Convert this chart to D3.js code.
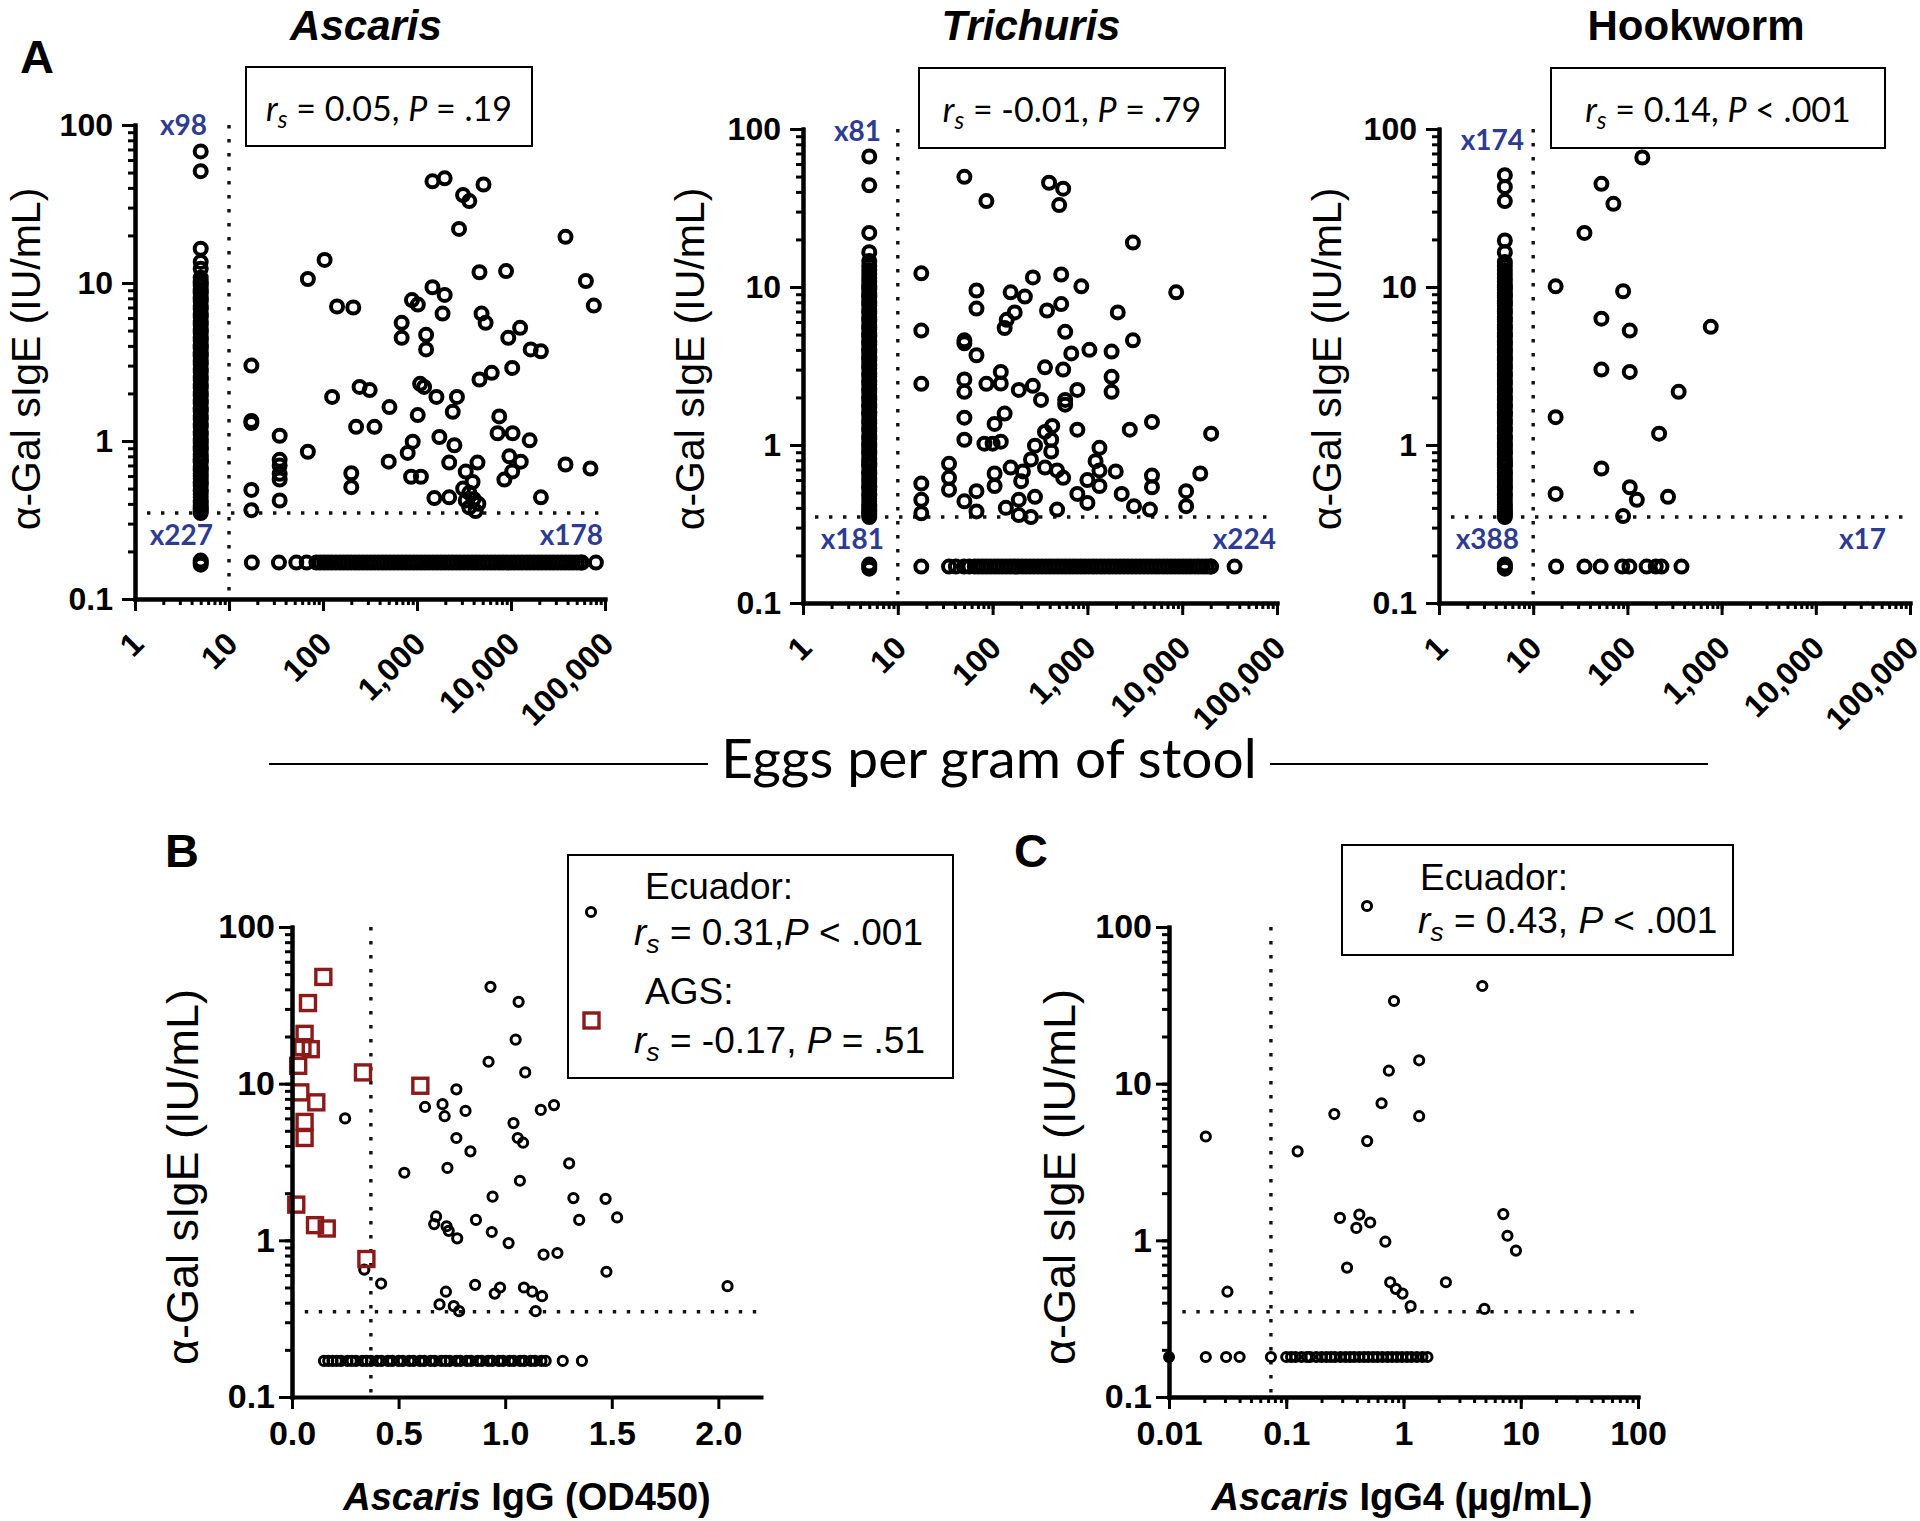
<!DOCTYPE html>
<html><head><meta charset="utf-8">
<script src="https://cdn.jsdelivr.net/npm/d3@7"></script>
<style>body{margin:0;background:#fff}svg{display:block}</style>
</head><body>
<svg id="fig" width="1920" height="1521"></svg>
<script>
// ---------------- DATA ----------------
const panelTitles = ["Ascaris", "Trichuris", "Hookworm"];
const panelItalic = [true, true, false];
const eggTicks = [1, 10, 100, 1000, 10000, 100000];
const eggTickLabels = ["1", "10", "100", "1,000", "10,000", "100,000"];
const igeTicks = [0.1, 1, 10, 100];
const igeTickLabels = ["0.1", "1", "10", "100"];
const countTopLeft = ["x98", "x81", "x174"];
const countBottomLeft = ["x227", "x181", "x388"];
const countBottomRight = ["x178", "x224", "x17"];
const rsValues = ["0.05", "-0.01", "0.14"];
const pValues = ["= .19", "= .79", "< .001"];
const yAxisTitle = "\u03b1-Gal sIgE (IU/mL)";
const xTitleA = "Eggs per gram of stool";

const negativeStoolX = 5;      // egg-negative subjects plotted at 5 EPG
const belowLodY = 0.17;        // sIgE below detection plotted at 0.17
const lodY = 0.35;             // alpha-gal positivity cut-off
const eggCut = 10;

// dense column of egg-negative subjects (0.35 .. ~11 IU/mL)
const columnDense = [0.35,0.36,0.37,0.38,0.39,0.41,0.42,0.44,0.46,0.48,0.49,0.52,0.54,0.55,0.58,0.6,0.62,0.65,0.67,0.69,0.73,0.75,0.77,0.8,0.82,0.87,0.9,0.92,0.97,1.0,1.03,1.09,1.12,1.15,1.22,1.26,1.29,1.37,1.41,1.45,1.53,1.58,1.62,1.72,1.77,1.82,1.93,1.98,2.04,2.16,2.22,2.29,2.42,2.5,2.57,2.72,2.8,2.88,3.05,3.14,3.23,3.42,3.52,3.62,3.84,3.95,4.06,4.3,4.43,4.56,4.83,4.97,5.11,5.41,5.57,5.73,6.07,6.25,6.43,6.81,7.0,7.21,7.64,7.85,8.09,8.57,8.8,9.08,9.6,9.9,10.2,10.8];
const ascarisColumnExtra = [0.165,0.17,0.175,12.3,13.6,16.5,51,68];
const trichurisColumnExtra = [0.165,0.17,0.175,11.4,12.1,12.8,13.6,14.6,16.6,22,44,67];
const hookwormColumnExtra = [0.165,0.17,0.175,11.4,12.1,12.8,13.6,14.4,16.6,19.7,35,43,51];

// egg-positive subjects with sIgE below detection (x = EPG)
const ascarisZeroRow = [17.5,34,52,67,85,93.5,103,113,124,137,151,166,182,200,220,242,266,293,322,354,390,429,472,519,571,628,690,760,835,920,1010,1110,1220,1340,1480,1630,1790,1970,2170,2380,2620,2880,3170,3490,3840,4220,4640,5110,5620,6180,6800,7480,8230,9050,9950,10900,12000,13200,14600,16000,17600,19400,21300,23500,25800,28400,31200,34400,37800,41600,45700,50300,55300,57000,80000];
const trichurisZeroRow = [17.7,34.7,41,50,57,65,71.5,78.7,86.5,95,105,115,127,140,154,169,186,205,225,248,272,300,330,363,399,439,483,531,584,643,707,778,855,941,1035,1140,1250,1380,1510,1670,1830,2020,2220,2440,2680,2950,3250,3570,3930,4320,4750,5230,5750,6330,6960,7650,8420,9260,10200,11200,12300,13600,14900,16400,18000,19800,20200,35700];
const hookwormZeroRow = [17.5,35,52,88,105,160,200,230,375];

// egg-positive subjects above detection: [EPG, sIgE]
const ascarisScatter = [[17.3,3.0],[69,10.6],[104,14],[141,7.1],[210,7.0],[125,1.9],[245,2.2],[314,2.1],[687,5.6],[687,4.5],[884,7.8],[1020,7.3],[1250,4.7],[1250,3.8],[1080,2.3],[1190,2.2],[1610,1.9],[1460,9.4],[1970,8.4],[1870,6.4],[1460,44],[1970,46],[3090,36],[3600,33],[5100,42],[2800,22],[2660,1.9],[4620,11.7],[4860,6.4],[5370,5.6],[4620,2.45],[6240,2.7],[8860,11.9],[9350,4.5],[12500,5.2],[10300,2.9],[16200,3.8],[20800,3.7],[38000,19.6],[62600,10.3],[76000,7.2],[17.3,1.34],[17.3,1.30],[17.3,0.49],[17.3,0.365],[34.6,1.08],[34.6,0.76],[34.6,0.70],[34.6,0.62],[34.6,0.57],[34.6,0.42],[69,0.855],[225,1.23],[353,1.23],[200,0.625],[200,0.51],[509,1.64],[1018,1.46],[500,0.74],[900,0.99],[796,0.84],[865,0.594],[1100,0.594],[1730,1.06],[2400,1.53],[2500,0.94],[2200,0.73],[1530,0.435],[2200,0.44],[3300,0.64],[4400,0.73],[3100,0.5],[3600,0.47],[4000,0.43],[4500,0.4],[3600,0.38],[3300,0.42],[4200,0.36],[3900,0.55],[7500,1.43],[7200,1.12],[10400,1.12],[15800,1.01],[9600,0.8],[12700,0.74],[10300,0.64],[8500,0.57],[20800,0.44],[38000,0.71],[70000,0.67]];
const trichurisScatter = [[17.7,12.2],[17.7,5.3],[17.7,2.44],[17.7,0.57],[17.7,0.45],[17.7,0.37],[34.7,0.76],[34.7,0.62],[34.7,0.52],[50.4,0.44],[50.4,49.8],[86,35],[67.6,9.5],[67.6,7.3],[50.4,4.6],[50.4,4.4],[67.6,3.7],[50.4,2.6],[50.4,2.17],[50.4,1.49],[50.4,1.08],[67.6,0.51],[67.6,0.38],[86,2.44],[122,2.9],[122,2.45],[134,1.58],[105,1.36],[82,1.02],[100,1.02],[122,1.05],[105,0.66],[105,0.55],[138,0.40],[155,0.72],[189,0.45],[189,0.36],[209,0.68],[200,0.59],[254,0.35],[280,0.47],[254,0.81],[280,0.99],[189,2.23],[266,2.37],[324,1.93],[357,1.21],[426,1.32],[415,1.08],[415,0.91],[479,0.39],[134,5.5],[141,6.2],[171,6.9],[155,9.25],[219,8.7],[266,11.5],[375,7.1],[529,7.8],[529,12],[394,45.7],[555,41.9],[504,33],[863,10.1],[583,5.2],[676,3.8],[1050,4.0],[555,3.0],[357,3.1],[583,1.93],[583,1.8],[783,2.23],[783,1.25],[2090,6.9],[1800,3.9],[1800,2.7],[1800,2.17],[3020,19.1],[3020,4.6],[2800,1.25],[4800,1.4],[1340,0.96],[1220,0.79],[1340,0.69],[1000,0.6],[783,0.49],[1000,0.43],[1340,0.55],[1990,0.68],[2300,0.49],[3100,0.41],[4570,0.39],[4800,0.64],[4800,0.54],[11000,0.51],[11000,0.41],[15500,0.66],[8640,9.25],[20200,1.18],[479,0.69],[555,0.62],[357,0.72]];
const hookwormScatter = [[17.3,10.1],[17.3,1.5],[17.3,0.49],[35,22],[53,45],[71,33.6],[144,66],[90,9.4],[53,6.3],[106,5.3],[53,3.0],[106,2.9],[767,5.6],[350,2.17],[217,1.18],[53,0.71],[106,0.54],[126,0.45],[270,0.47],[90,0.355]];

// Panel B: Ascaris IgG (OD450) vs alpha-gal sIgE
const igGTicks = [0, 0.5, 1, 1.5, 2];
const igGTickLabels = ["0.0", "0.5", "1.0", "1.5", "2.0"];
const igGCut = 0.37;
const ecuadorIgG = [[0.931,41.5],[1.063,33.3],[1.049,19.1],[0.922,13.8],[1.094,11.8],[0.249,6.0],[0.624,7.1],[0.706,7.4],[0.716,6.2],[0.771,9.2],[0.814,6.7],[0.771,4.5],[0.837,3.7],[0.729,2.9],[0.527,2.7],[1.167,6.8],[1.229,7.3],[1.039,5.6],[1.059,4.5],[1.084,4.2],[1.069,2.4],[1.3,3.1],[0.941,1.9],[1.32,1.86],[1.471,1.84],[1.525,1.4],[1.347,1.35],[0.676,1.42],[0.667,1.27],[0.725,1.23],[0.735,1.15],[0.775,1.03],[0.863,1.35],[0.937,1.13],[1.016,0.96],[1.18,0.81],[1.245,0.83],[1.475,0.63],[0.339,0.65],[0.418,0.53],[0.859,0.52],[0.976,0.5],[0.951,0.457],[0.722,0.47],[0.692,0.39],[0.759,0.38],[0.784,0.353],[1.088,0.5],[1.127,0.47],[1.173,0.44],[1.143,0.353],[2.043,0.51]];
const ecuadorIgGZero = [0.15,0.17,0.19,0.21,0.23,0.26,0.28,0.30,0.33,0.35,0.37,0.40,0.42,0.45,0.47,0.50,0.52,0.55,0.57,0.60,0.62,0.65,0.67,0.70,0.72,0.74,0.77,0.79,0.82,0.84,0.87,0.89,0.92,0.94,0.97,0.99,1.02,1.04,1.07,1.09,1.12,1.14,1.17,1.19,1.27,1.36];
const agsIgG = [[0.147,48],[0.075,32.7],[0.059,20.8],[0.049,17.1],[0.088,16.6],[0.029,13],[0.333,11.8],[0.039,8.8],[0.114,7.6],[0.059,5.7],[0.059,4.5],[0.602,9.7],[0.02,1.69],[0.108,1.25],[0.163,1.19],[0.349,0.76]];
const legendB = [{name:"Ecuador:", rs:"0.31,", p:"< .001"}, {name:"AGS:", rs:"-0.17,", p:"= .51"}];

// Panel C: Ascaris IgG4 vs alpha-gal sIgE
const igG4Ticks = [0.01, 0.1, 1, 10, 100];
const igG4TickLabels = ["0.01", "0.1", "1", "10", "100"];
const igG4Cut = 0.074;
const ecuadorIgG4 = [[4.7,42],[0.83,33.7],[1.36,14.1],[0.75,12.1],[0.65,7.5],[0.257,6.4],[1.36,6.2],[0.49,4.3],[0.0206,4.6],[0.125,3.7],[0.287,1.39],[0.42,1.46],[0.396,1.2],[0.52,1.3],[0.7,0.98],[0.33,0.67],[7.1,1.47],[7.7,1.07],[9.1,0.86],[2.3,0.54],[0.77,0.54],[0.86,0.49],[0.98,0.457],[1.15,0.38],[4.9,0.365],[0.0315,0.47]];
const ecuadorIgG4Zero = [0.0206,0.0307,0.04,0.074,0.1,0.11,0.12,0.135,0.15,0.16,0.18,0.2,0.22,0.24,0.26,0.29,0.32,0.35,0.38,0.42,0.46,0.5,0.55,0.6,0.66,0.73,0.8,0.88,0.97,1.07,1.17,1.3,1.45,1.6];
const ecuadorIgG4Filled = [[0.01, 0.18]];
const belowLodYC = 0.18;
const legendC = [{name:"Ecuador:", rs:"0.43,", p:"< .001"}];

// ---------------- DRAWING ----------------
const svg = d3.select("#fig");
const BLUE = "#2e3b92", RED = "#8b1a1a";
const ARIAL = "'Liberation Sans', Arial, Helvetica, sans-serif";
const CAL = "Lato, 'Open Sans', sans-serif";

function styleAxis(a, w) {
  a.select(".domain").attr("stroke", "#000").attr("stroke-width", w).attr("stroke-linecap", "square");
  a.selectAll(".tick line").attr("stroke", "#000").attr("stroke-width", 3);
  a.selectAll("text").attr("fill", "#000");
}

function logYAxis(g, y, x0, fontSize, pad) {
  const minor = g.append("g").attr("transform", `translate(${x0},0)`)
    .call(d3.axisLeft(y).tickValues(y.ticks()).tickSize(7).tickSizeOuter(0).tickFormat(""));
  const major = g.append("g").attr("transform", `translate(${x0},0)`)
    .call(d3.axisLeft(y).tickValues(igeTicks).tickSize(13).tickSizeOuter(0).tickPadding(pad)
      .tickFormat((d, i) => igeTickLabels[i]));
  styleAxis(minor, 4); styleAxis(major, 4);
  major.attr("font-family", ARIAL).attr("font-size", fontSize).attr("font-weight", "bold");
}

function dotted(g, x1, y1, x2, y2) {
  g.append("line").attr("x1", x1).attr("y1", y1).attr("x2", x2).attr("y2", y2)
    .attr("stroke", "#111").attr("stroke-width", 3.4).attr("stroke-dasharray", "3.4,10.6");
}

function statText(sel, x, y, rs, p, font, size, anchor, sep) {
  const t = sel.append("text").attr("x", x).attr("y", y).attr("font-family", font)
    .attr("font-size", size).attr("text-anchor", anchor).attr("fill", "#000");
  t.append("tspan").attr("font-style", "italic").text("r");
  t.append("tspan").attr("font-style", "italic").attr("font-size", size * 0.72).attr("dy", size * 0.22).text("s");
  t.append("tspan").attr("dy", -size * 0.22).text(" = " + rs + sep);
  t.append("tspan").attr("font-style", "italic").text("P");
  t.append("tspan").text(" " + p);
}

function ring(g, pts, x, y, r, sw) {
  g.append("g").selectAll("circle").data(pts).join("circle")
    .attr("cx", d => x(d[0])).attr("cy", d => y(d[1])).attr("r", r)
    .attr("fill", "none").attr("stroke", "#000").attr("stroke-width", sw);
}

// ---- Panel A ----
const eggPanels = [
  {x0:135, x1:605, yTop:125, yBot:599, column:columnDense.concat(ascarisColumnExtra), row:ascarisZeroRow, scatter:ascarisScatter,
   titleX:366, box:[246,67,532,146], tl:[207,135], bl:[213,545], br:[603,545], yTitleX:40},
  {x0:803, x1:1277, yTop:129, yBot:603, column:columnDense.concat(trichurisColumnExtra), row:trichurisZeroRow, scatter:trichurisScatter,
   titleX:1031, box:[919,68,1225,148], tl:[881,141], bl:[884,549], br:[1276,549], yTitleX:704},
  {x0:1439, x1:1910, yTop:129, yBot:603, column:columnDense.concat(hookwormColumnExtra), row:hookwormZeroRow, scatter:hookwormScatter,
   titleX:1696, box:[1551,68,1885,148], tl:[1524,150], bl:[1519,549], br:[1886,549], yTitleX:1341}
];

eggPanels.forEach((c, i) => {
  const g = svg.append("g");
  const x = d3.scaleLog().domain([1, 100000]).range([c.x0, c.x1]);
  const y = d3.scaleLog().domain([0.1, 100]).range([c.yBot, c.yTop]);

  dotted(g, x(eggCut), y(100), x(eggCut), y(0.1));
  dotted(g, c.x0 + 12, y(lodY), c.x1, y(lodY));

  const pts = c.column.map(v => [negativeStoolX, v])
    .concat(c.row.map(v => [v, belowLodY]), c.scatter);
  ring(g, pts, x, y, 6, 4);

  // x axis
  const minor = g.append("g").attr("transform", `translate(0,${c.yBot})`)
    .call(d3.axisBottom(x).tickValues(x.ticks()).tickSize(6).tickSizeOuter(0).tickFormat(""));
  const major = g.append("g").attr("transform", `translate(0,${c.yBot})`)
    .call(d3.axisBottom(x).tickValues(eggTicks).tickSize(12).tickSizeOuter(0)
      .tickFormat((d, k) => eggTickLabels[k]));
  styleAxis(minor, 4); styleAxis(major, 4);
  major.attr("font-family", ARIAL).attr("font-size", 32).attr("font-weight", "bold");
  major.selectAll("text").attr("y", null).attr("dy", null).attr("text-anchor", "end")
    .attr("transform", "translate(10,47) rotate(-45)");

  logYAxis(g, y, c.x0, 32, 9);

  // title
  svg.append("text").attr("x", c.titleX).attr("y", 40).attr("text-anchor", "middle")
    .attr("font-family", ARIAL).attr("font-weight", "bold").attr("font-size", 42)
    .attr("font-style", panelItalic[i] ? "italic" : "normal").text(panelTitles[i]);

  // stats box
  const b = c.box;
  svg.append("rect").attr("x", b[0]).attr("y", b[1]).attr("width", b[2] - b[0]).attr("height", b[3] - b[1])
    .attr("fill", "#fff").attr("stroke", "#000").attr("stroke-width", 2);
  statText(svg, (b[0] + b[2]) / 2, b[1] + 54, rsValues[i], pValues[i], CAL, 34, "middle", ", ");

  // counts
  const cnt = (pos, txt) => svg.append("text").attr("x", pos[0]).attr("y", pos[1]).attr("text-anchor", "end")
    .attr("font-family", CAL).attr("font-weight", "bold").attr("font-size", 28).attr("fill", BLUE).text(txt);
  cnt(c.tl, countTopLeft[i]); cnt(c.bl, countBottomLeft[i]); cnt(c.br, countBottomRight[i]);

  // y title
  svg.append("text").attr("transform", `translate(${c.yTitleX},359) rotate(-90)`).attr("text-anchor", "middle")
    .attr("font-family", ARIAL).attr("font-size", 41).text(yAxisTitle);
});

svg.append("text").attr("x", 20).attr("y", 73).attr("font-family", ARIAL).attr("font-weight", "bold")
  .attr("font-size", 47).text("A");

// shared x title for panel A
svg.append("line").attr("x1", 269).attr("x2", 708).attr("y1", 764).attr("y2", 764).attr("stroke", "#000").attr("stroke-width", 2);
svg.append("line").attr("x1", 1270).attr("x2", 1708).attr("y1", 764).attr("y2", 764).attr("stroke", "#000").attr("stroke-width", 2);
svg.append("text").attr("x", 989).attr("y", 778).attr("text-anchor", "middle").attr("font-family", CAL)
  .attr("font-size", 55).text(xTitleA);

// ---- Panel B ----
{
  const g = svg.append("g");
  const x = d3.scaleLinear().domain([0, 2.2]).range([292, 761]);
  const y = d3.scaleLog().domain([0.1, 100]).range([1397, 927]);
  dotted(g, x(igGCut), y(100), x(igGCut), y(0.1));
  dotted(g, x(0.06), y(lodY), x(2.2), y(lodY));
  ring(g, ecuadorIgG.concat(ecuadorIgGZero.map(v => [v, belowLodY])), x, y, 4.6, 3);
  g.append("g").selectAll("rect").data(agsIgG).join("rect")
    .attr("x", d => x(d[0]) - 7.5).attr("y", d => y(d[1]) - 7.5).attr("width", 15).attr("height", 15)
    .attr("fill", "none").attr("stroke", RED).attr("stroke-width", 3.4);
  const xa = g.append("g").attr("transform", "translate(0,1397)")
    .call(d3.axisBottom(x).tickValues(igGTicks).tickSize(12).tickSizeOuter(0).tickPadding(12)
      .tickFormat((d, k) => igGTickLabels[k]));
  styleAxis(xa, 4);
  xa.attr("font-family", ARIAL).attr("font-size", 34).attr("font-weight", "bold");
  logYAxis(g, y, 292, 34, 4);

  svg.append("text").attr("x", 165).attr("y", 867).attr("font-family", ARIAL).attr("font-weight", "bold")
    .attr("font-size", 47).text("B");
  const t = svg.append("text").attr("x", 527).attr("y", 1510).attr("text-anchor", "middle")
    .attr("font-family", ARIAL).attr("font-weight", "bold").attr("font-size", 38);
  t.append("tspan").attr("font-style", "italic").text("Ascaris");
  t.append("tspan").text(" IgG (OD450)");
  svg.append("text").attr("transform", "translate(198,1177) rotate(-90)").attr("text-anchor", "middle")
    .attr("font-family", ARIAL).attr("font-size", 45).text(yAxisTitle);

  // legend
  svg.append("rect").attr("x", 568).attr("y", 855).attr("width", 385).attr("height", 223)
    .attr("fill", "#fff").attr("stroke", "#000").attr("stroke-width", 2);
  svg.append("circle").attr("cx", 591).attr("cy", 912).attr("r", 4.6).attr("fill", "none").attr("stroke", "#000").attr("stroke-width", 3);
  svg.append("rect").attr("x", 584).attr("y", 1013).attr("width", 15).attr("height", 15).attr("fill", "none").attr("stroke", RED).attr("stroke-width", 3.4);
  const rowsY = [[899, 945], [1004, 1053]];
  legendB.forEach((d, k) => {
    svg.append("text").attr("x", 645).attr("y", rowsY[k][0]).attr("font-family", ARIAL).attr("font-size", 37).text(d.name);
    statText(svg, 634, rowsY[k][1], d.rs, d.p, ARIAL, 37, "start", k === 0 ? "" : " ");
  });
}

// ---- Panel C ----
{
  const g = svg.append("g");
  const x = d3.scaleLog().domain([0.01, 100]).range([1169, 1638]);
  const y = d3.scaleLog().domain([0.1, 100]).range([1397, 927]);
  dotted(g, x(igG4Cut), y(100), x(igG4Cut), y(0.1));
  dotted(g, x(0.013), y(lodY), x(100), y(lodY));
  ring(g, ecuadorIgG4.concat(ecuadorIgG4Zero.map(v => [v, belowLodYC])), x, y, 4.6, 3);
  g.append("g").selectAll("circle").data(ecuadorIgG4Filled).join("circle")
    .attr("cx", d => x(d[0])).attr("cy", d => y(d[1])).attr("r", 6).attr("fill", "#000");
  const minor = g.append("g").attr("transform", "translate(0,1397)")
    .call(d3.axisBottom(x).tickValues(x.ticks()).tickSize(6).tickSizeOuter(0).tickFormat(""));
  const major = g.append("g").attr("transform", "translate(0,1397)")
    .call(d3.axisBottom(x).tickValues(igG4Ticks).tickSize(12).tickSizeOuter(0).tickPadding(12)
      .tickFormat((d, k) => igG4TickLabels[k]));
  styleAxis(minor, 4); styleAxis(major, 4);
  major.attr("font-family", ARIAL).attr("font-size", 34).attr("font-weight", "bold");
  logYAxis(g, y, 1169, 34, 4);

  svg.append("text").attr("x", 1014).attr("y", 867).attr("font-family", ARIAL).attr("font-weight", "bold")
    .attr("font-size", 47).text("C");
  const t = svg.append("text").attr("x", 1402).attr("y", 1510).attr("text-anchor", "middle")
    .attr("font-family", ARIAL).attr("font-weight", "bold").attr("font-size", 38);
  t.append("tspan").attr("font-style", "italic").text("Ascaris");
  t.append("tspan").text(" IgG4 (\u00b5g/mL)");
  svg.append("text").attr("transform", "translate(1075,1177) rotate(-90)").attr("text-anchor", "middle")
    .attr("font-family", ARIAL).attr("font-size", 45).text(yAxisTitle);

  svg.append("rect").attr("x", 1342).attr("y", 845).attr("width", 391).attr("height", 110)
    .attr("fill", "#fff").attr("stroke", "#000").attr("stroke-width", 2);
  svg.append("circle").attr("cx", 1367).attr("cy", 906).attr("r", 4.6).attr("fill", "none").attr("stroke", "#000").attr("stroke-width", 3);
  legendC.forEach(d => {
    svg.append("text").attr("x", 1420).attr("y", 890).attr("font-family", ARIAL).attr("font-size", 37).text(d.name);
    statText(svg, 1418, 933, d.rs, d.p, ARIAL, 37, "start", " ");
  });
}
</script>
</body></html>
